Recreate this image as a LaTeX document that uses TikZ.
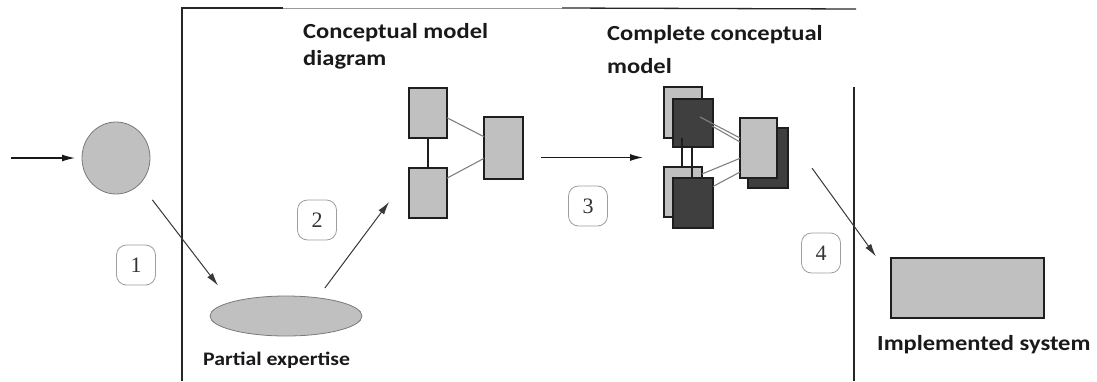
\documentclass[tikz,border=0pt]{standalone}
\usepackage{fontspec}
\setmainfont{Liberation Serif}
\newfontfamily\capfont[FakeStretch=1.14]{Carlito}
\usetikzlibrary{arrows.meta,shapes.geometric,calc}
\definecolor{boxgray}{HTML}{C0C0C0}
\definecolor{darkbox}{HTML}{3F3F3F}
\definecolor{edgec}{HTML}{1E1E1E}
\definecolor{blobedge}{HTML}{7A7A7A}
\begin{document}
\begin{tikzpicture}[x=1pt,y=-1pt,
  gbox/.style={draw=edgec, line width=1.4pt, fill=boxgray, inner sep=0pt, outer sep=0pt},
  dbox/.style={gbox, fill=darkbox},
  blob/.style={ellipse, draw=blobedge, line width=0.8pt, fill=boxgray, inner sep=0pt, outer sep=0pt},
  numlbl/.style={draw=black!38, line width=0.8pt, rounded corners=10pt, minimum width=39pt, minimum height=40pt, inner sep=0pt, fill=white, font=\fontsize{22}{24}\selectfont, text=black!80},
  captext/.style={font=\capfont\bfseries\fontsize{21.5}{26}\selectfont, text=black!90, inner sep=0pt, anchor=base west},
  capsmall/.style={captext, font=\capfont\bfseries\fontsize{19.1}{23}\selectfont},
  arr/.style={-{Latex[length=13pt,width=7pt]}, line width=1pt, draw=black!78},
  arrdark/.style={arr, draw=black!90, line width=1.2pt},
  link/.style={draw=black!50, line width=1.1pt},
  vlink/.style={draw=edgec, line width=1.4pt},
  frameline/.style={line width=1.3pt, draw=black!85},
]
\useasboundingbox (0,0) rectangle (1097,381);

% frame
\draw[frameline] (182,381) -- (182,8) -- (283,8);
\draw[line width=0.8pt, draw=black!40] (283,8) -- (562,8);
\draw[frameline] (562,8) -- (856,9);
\draw[frameline] (854,87) -- (854,381);

% start
\coordinate (in0) at (11,158);
\node[blob, minimum width=68pt, minimum height=72pt] (circ) at (116,158) {};
\node[blob, minimum width=152pt, minimum height=40pt] (ell) at (286,316) {};
\node[capsmall] (pe) at (203,365) {Partial expertise};

% conceptual model diagram
\node[gbox, minimum width=38pt, minimum height=50pt] (A) at (428,113) {};
\node[gbox, minimum width=38pt, minimum height=50pt] (B) at (428,193) {};
\node[gbox, minimum width=39pt, minimum height=62pt] (C) at (503.5,148) {};
\draw[vlink] (A) -- (B);
\draw[link] (A.-14.7) -- (C.150.6);
\draw[link] (B.38.3) -- (C.-152.9);
\node[captext] (cmd1) at (303,38.5) {Conceptual model};
\node[captext] (cmd2) at (303,65) {diagram};

% complete conceptual model
\node[minimum width=124pt, minimum height=141pt, inner sep=0pt, outer sep=0pt] (cm) at (726,157.5) {};
\node[gbox, minimum width=38pt, minimum height=51pt] (LT) at (683,112.5) {};
\node[dbox, minimum width=40pt, minimum height=48pt] (DT) at (693,123) {};
\node[gbox, minimum width=38pt, minimum height=50pt] (LB) at (683,192) {};
\node[dbox, minimum width=40pt, minimum height=50pt] (DB) at (693,203) {};
\node[dbox, minimum width=40pt, minimum height=60pt] (RD) at (768,158) {};
\node[gbox, minimum width=37pt, minimum height=60pt] (RL) at (758.5,148) {};
\draw[vlink] ($(LT.south)+(-1,0)$) -- ($(LB.north)+(-1,0)$);
\draw[vlink] ($(DT.south)+(-1,0)$) -- ($(DB.north)+(-1,0)$);
\draw[link] ($(DT.center)+(7,-6)$) -- ($(RL.center)+(-18.5,-10)$);
\draw[link] ($(DT.center)+(19,3)$) -- ($(RL.center)+(-18.5,-6)$);
\draw[link] ($(LB.center)+(19,-18)$) -- ($(RL.center)+(-18.5,10.3)$);
\draw[link] ($(DB.center)+(20,-16.5)$) -- ($(RL.center)+(-18.5,24)$);
\node[captext] (ccm1) at (607,40) {Complete conceptual};
\node[captext] (ccm2) at (607,73) {model};

% implemented system
\node[gbox, minimum width=153pt, minimum height=60pt] (impl) at (967.5,288) {};
\node[captext] (is) at (877,350) {Implemented system};

% step labels
\node[numlbl] (l1) at (136,265) {1};
\node[numlbl] (l2) at (317,220) {2};
\node[numlbl] (l3) at (588,206) {3};
\node[numlbl] (l4) at (821,253) {4};

% arrows
\draw[arrdark, shorten >=7pt] (in0) -- (circ.west);
\draw[arr, shorten <=20.5pt, shorten >=21pt] (circ.-47.3) -- (ell.166.8);
\draw[arr, shorten <=12.2pt, shorten >=33.2pt] (ell.30.8) -- (B.137.4);
\draw[arrdark, shorten <=18pt, shorten >=21pt] (C.east |- cm.west) -- (cm.west);
\draw[arr, shorten <=41pt, shorten >=25.7pt] (cm.20.3) -- (impl.172.4);
\end{tikzpicture}
\end{document}
